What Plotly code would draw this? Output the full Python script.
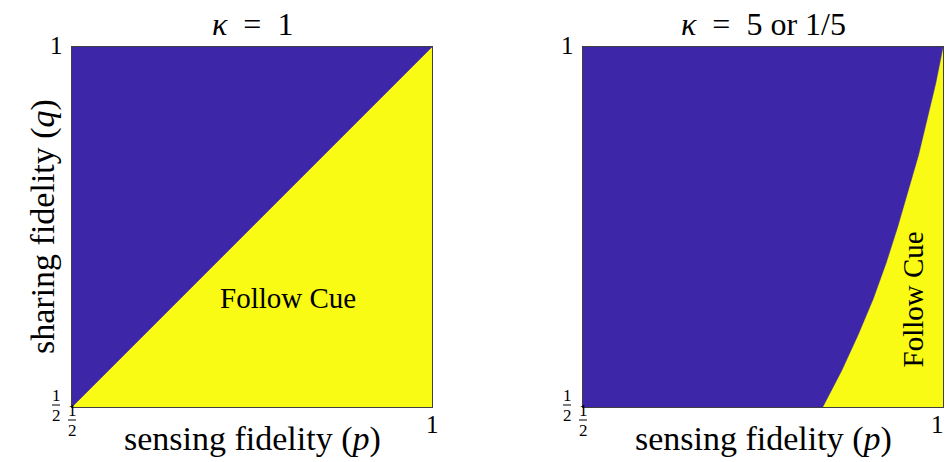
import plotly.graph_objects as go

# region boundary (p at which following the cue starts)
q_vals = [0.50, 0.55, 0.60, 0.65, 0.70, 0.75, 0.80, 0.85, 0.90, 0.95, 1.00]
p_kappa1 = [0.50, 0.55, 0.60, 0.65, 0.70, 0.75, 0.80, 0.85, 0.90, 0.95, 1.00]
p_kappa5 = [0.833, 0.859, 0.882, 0.903, 0.921, 0.937, 0.952, 0.966, 0.978, 0.990, 1.00]

titles = ['<i>κ</i>\u2002=\u20021', '<i>κ</i>\u2002=\u20025 or 1/5']
x_label = 'sensing fidelity (<i>p</i>)'
y_label = 'sharing fidelity (<i>q</i>)'
region_label = 'Follow Cue'
label_pos = [(0.80, 0.651, 0), (0.958, 0.649, -90)]
lo, hi = 0.5, 1.0

BLUE = '#3d26a8'
YELLOW = '#f9fb15'
FONT = 'Liberation Serif'
W, H = 946, 462

fig = go.Figure()

# panel placement in pixels -> paper domains
panels = [(72, 432), (583, 943)]
top, bottom = 47, 407
ydom = [(H - bottom) / H, (H - top) / H]

for i, (boundary, (x0, x1)) in enumerate(zip([p_kappa1, p_kappa5], panels)):
    xa = 'x' if i == 0 else 'x2'
    ya = 'y' if i == 0 else 'y2'
    # blue region: left of / above the boundary; yellow is the plot background
    xs = [lo] + boundary + [lo, lo]
    ys = [lo] + q_vals + [hi, lo]
    fig.add_trace(go.Scatter(x=xs, y=ys, mode='lines', fill='toself',
                             fillcolor=BLUE, line=dict(color=BLUE, width=0.5),
                             hoverinfo='skip', showlegend=False,
                             xaxis=xa, yaxis=ya))

    axis_common = dict(range=[lo, hi], showgrid=False, zeroline=False,
                       showticklabels=False, ticks='', showline=True,
                       linecolor='#404040', linewidth=1, mirror=True)
    fig.layout['xaxis' if i == 0 else 'xaxis2'] = dict(
        axis_common, domain=[x0 / W, x1 / W], anchor=ya)
    fig.layout['yaxis' if i == 0 else 'yaxis2'] = dict(
        axis_common, domain=ydom, anchor=xa)

    xd = xa + ' domain'
    yd = ya + ' domain'
    tick_font = dict(family=FONT, size=25, color='black')
    frac_font = dict(family=FONT, size=17, color='black')

    # title
    fig.add_annotation(text=titles[i], xref=xd, yref='paper',
                       x=0.5, y=(H - 24) / H, showarrow=False, yanchor='middle',
                       font=dict(family=FONT, size=32, color='black'))
    # x label
    fig.add_annotation(text=x_label, xref=xd, yref='paper',
                       x=0.5, y=(H - 439) / H, showarrow=False, yanchor='middle',
                       font=dict(family=FONT, size=34, color='black'))
    # tick "1" labels
    fig.add_annotation(text='1', xref=xd, yref=yd, x=0, y=1, showarrow=False,
                       xanchor='right', yanchor='middle', xshift=-7, yshift=2,
                       font=tick_font)
    fig.add_annotation(text='1', xref=xd, yref=yd, x=1, y=0, showarrow=False,
                       xanchor='right' if i == 1 else 'center', yanchor='top',
                       xshift=3 if i == 1 else 0, yshift=-2,
                       font=tick_font)
    # stacked 1/2 fractions at the lower-left corner
    for dx, dy in [(-16, 2), (0, -13)]:
        fig.add_annotation(text='1', xref=xd, yref=yd, x=0, y=0,
                           showarrow=False, xanchor='center', yanchor='bottom',
                           xshift=dx, yshift=dy - 2, font=frac_font)
        fig.add_annotation(text='2', xref=xd, yref=yd, x=0, y=0,
                           showarrow=False, xanchor='center', yanchor='top',
                           xshift=dx, yshift=dy + 1, font=frac_font)
        fig.add_shape(type='line', xref=xd, yref=yd, xsizemode='pixel',
                      ysizemode='pixel', xanchor=0, yanchor=0,
                      x0=dx - 4, x1=dx + 4, y0=dy, y1=dy,
                      line=dict(color='black', width=1))

    # region label
    px, py, ang = label_pos[i]
    fig.add_annotation(text=region_label, xref=xa, yref=ya, x=px, y=py,
                       textangle=ang, showarrow=False,
                       font=dict(family=FONT, size=29, color='black'))

# y label (left panel only)
fig.add_annotation(text=y_label, xref='paper', yref='y domain', x=22 / W, y=0.5,
                   textangle=-90, showarrow=False,
                   font=dict(family=FONT, size=34, color='black'))

fig.update_layout(width=W, height=H, margin=dict(l=0, r=0, t=0, b=0),
                  plot_bgcolor=YELLOW, paper_bgcolor='white')

fig.write_html('out.html', config={'displayModeBar': False},
               post_script="document.body.style.margin='0';")
